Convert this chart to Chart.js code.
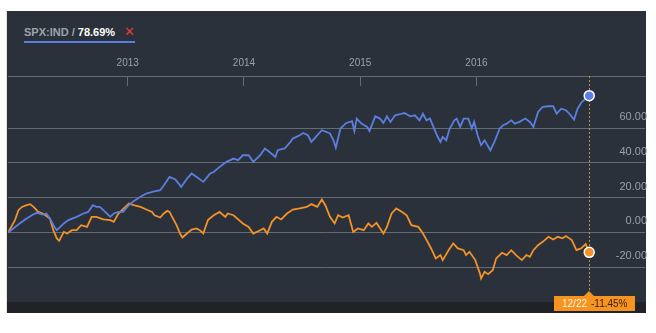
<!DOCTYPE html>
<html>
<head>
<meta charset="utf-8">
<script src="https://cdn.jsdelivr.net/npm/chart.js@4/dist/chart.umd.min.js"></script>
<style>
  html, body { margin: 0; padding: 0; background: #fff; }
  body { width: 656px; height: 333px; position: relative; overflow: hidden; font-family: Arial, "Liberation Sans", sans-serif; }
  #panel { position: absolute; left: 6px; top: 11px; width: 639px; height: 302px; background: #2a313a; border-left: 1px solid #efe2cf; }
  #strip { position: absolute; left: 0; right: 0; top: 291px; bottom: 0; background: #1f2328; }
  #legend { position: absolute; left: 24px; top: 24px; font-size: 11px; font-weight: bold; color: #9ea3aa; padding-bottom: 2px; border-bottom: 2px solid #5b7fe0; white-space: nowrap; }
  #legend .val { color: #ffffff; }
  #legend .close { color: #e2393f; font-size: 13px; font-weight: normal; margin-left: 9px; }
  canvas { position: absolute; left: 0; top: 0; }
</style>
</head>
<body>
<div id="panel"><div id="strip"></div></div>
<div id="legend">SPX:IND / <span class="val">78.69%</span><span class="close">&#x2715;</span></div>
<canvas id="perfChart" width="656" height="333"></canvas>
<script>
// Dates as fractional years, values as % change since start
const spxYears = [2011.97, 2012.07, 2012.13, 2012.19, 2012.22, 2012.27, 2012.30, 2012.33, 2012.37, 2012.39,
  2012.42, 2012.45, 2012.49, 2012.56, 2012.62, 2012.66, 2012.70, 2012.73, 2012.76, 2012.79,
  2012.85, 2012.88, 2012.92, 2012.96, 2013.01, 2013.05, 2013.11, 2013.16, 2013.22, 2013.28,
  2013.31, 2013.36, 2013.41, 2013.46, 2013.51, 2013.55, 2013.59, 2013.65, 2013.71, 2013.74,
  2013.79, 2013.85, 2013.91, 2013.95, 2013.99, 2014.04, 2014.08, 2014.14, 2014.18, 2014.22,
  2014.27, 2014.29, 2014.35, 2014.40, 2014.42, 2014.48, 2014.51, 2014.55, 2014.58, 2014.63,
  2014.67, 2014.71, 2014.74, 2014.77, 2014.79, 2014.83, 2014.88, 2014.93, 2014.95, 2014.97,
  2015.01, 2015.06, 2015.08, 2015.13, 2015.17, 2015.20, 2015.23, 2015.26, 2015.30, 2015.34,
  2015.38, 2015.43, 2015.47, 2015.51, 2015.54, 2015.57, 2015.60, 2015.63, 2015.66, 2015.69,
  2015.71, 2015.74, 2015.77, 2015.81, 2015.83, 2015.86, 2015.89, 2015.93, 2015.96, 2015.98,
  2016.01, 2016.04, 2016.07, 2016.12, 2016.16, 2016.20, 2016.23, 2016.26, 2016.30, 2016.33,
  2016.37, 2016.42, 2016.46, 2016.49, 2016.53, 2016.57, 2016.62, 2016.66, 2016.69, 2016.73,
  2016.77, 2016.80, 2016.84, 2016.87, 2016.90, 2016.93, 2016.97];
const spxValues = [0, 5.2, 8, 10.5, 11.3, 10.3, 10.9, 8, 3.2, 1.3,
  3.2, 5.2, 7.1, 9, 10.9, 11.8, 15.7, 14.7, 14.7, 12.8,
  9, 10.9, 11.8, 11.8, 15.7, 18, 20.5, 22.4, 23.5, 24.3,
  27, 32, 30.5, 26.2, 31, 33.9, 32, 29.1, 33.9, 34.8,
  37.7, 40.6, 42.5, 41.6, 44.4, 44.4, 40.6, 44.4, 48.3, 46.3,
  43.4, 47.3, 48.3, 52.1, 54, 55.9, 57.2, 55.9, 52.1, 55.9,
  58.8, 57.8, 56.9, 53, 48.8, 59.8, 63, 64, 58.4, 65.5,
  62.6, 60.7, 58.4, 66.8, 65.5, 63, 66.8, 63.6, 67.4, 68,
  68.7, 66.8, 67.4, 64.5, 68.3, 64.5, 65.5, 60.7, 55.9, 52.1,
  55, 53, 59.8, 64.5, 65.5, 60.7, 65.5, 65.5, 59.8, 63.6,
  55.9, 50.2, 53, 47.3, 53, 59.8, 61.7, 62.6, 64.5, 62.6,
  63.6, 65.5, 63.6, 60.7, 69.3, 72.2, 72.6, 72.6, 68.3, 71.2,
  70.3, 68.3, 64.9, 71.2, 74.5, 76.5, 78.69];

const peerYears = [2011.97, 2012.03, 2012.06, 2012.09, 2012.13, 2012.16, 2012.19, 2012.23, 2012.27, 2012.33,
  2012.36, 2012.39, 2012.41, 2012.45, 2012.48, 2012.52, 2012.56, 2012.60, 2012.65, 2012.69,
  2012.73, 2012.79, 2012.85, 2012.88, 2012.92, 2013.01, 2013.05, 2013.11, 2013.16, 2013.21,
  2013.23, 2013.28, 2013.31, 2013.34, 2013.36, 2013.39, 2013.42, 2013.45, 2013.47, 2013.51,
  2013.55, 2013.59, 2013.62, 2013.65, 2013.69, 2013.74, 2013.79, 2013.84, 2013.86, 2013.91,
  2013.95, 2013.99, 2014.04, 2014.08, 2014.11, 2014.17, 2014.20, 2014.24, 2014.28, 2014.32,
  2014.37, 2014.42, 2014.48, 2014.54, 2014.58, 2014.63, 2014.67, 2014.70, 2014.74, 2014.78,
  2014.81, 2014.85, 2014.90, 2014.94, 2014.98, 2015.03, 2015.07, 2015.10, 2015.14, 2015.20,
  2015.23, 2015.27, 2015.31, 2015.36, 2015.40, 2015.44, 2015.50, 2015.54, 2015.58, 2015.61,
  2015.65, 2015.69, 2015.71, 2015.76, 2015.80, 2015.84, 2015.89, 2015.91, 2015.94, 2015.99,
  2016.03, 2016.04, 2016.07, 2016.10, 2016.14, 2016.17, 2016.22, 2016.26, 2016.30, 2016.34,
  2016.39, 2016.43, 2016.46, 2016.49, 2016.53, 2016.57, 2016.62, 2016.66, 2016.70, 2016.74,
  2016.77, 2016.82, 2016.86, 2016.90, 2016.94, 2016.97];
const peerValues = [0, 7.1, 12.8, 14.7, 15.7, 16.3, 14.7, 11.8, 10.9, 8,
  1.3, -3.4, -4.8, 0.3, -0.6, 1.3, 1.3, 4.2, 3.2, 9,
  9, 7.5, 7.1, 6.1, 10.9, 16.7, 15.7, 14.7, 13.2, 11.8,
  9.9, 8.6, 10.9, 12.4, 11.8, 8, 4.2, -0.6, -2.9, -0.6,
  1.7, 2.3, 1.3, -0.6, 7.1, 9.9, 11.8, 9, 10.9, 9.9,
  7.5, 5.2, 3.2, -0.6, 0.3, 2.3, -0.6, 6.1, 9, 7.5,
  10.9, 13.2, 13.8, 14.7, 16.3, 14.7, 19, 15.7, 9, 5.2,
  9.9, 8.6, 9.9, 0.3, 2.3, 1.3, 5.2, 3.2, 5.5, -0.6,
  3.2, 10.9, 13.8, 11.8, 9.9, 4.2, 3.2, -0.6, -5.4, -9.2,
  -14.9, -13, -15.9, -10.2, -6.3, -9.2, -10.2, -13, -11.1, -15.9,
  -23.6, -26.4, -22.6, -24, -21.7, -14.9, -11.7, -13, -10.2, -13,
  -15.9, -13, -14, -10.2, -7.3, -5.4, -2.5, -4, -2.5, -3.4,
  -2.1, -4.4, -10.2, -9.2, -6.7, -11.45];

const yearTicks = [2013, 2014, 2015, 2016];
const valueTicks = [-20, 0, 20, 40, 60];
const endDateLabel = '12/22';
const endPeerLabel = '-11.45%';

const blue = '#5b7fe0';
const orange = '#f39229';
const gridColor = '#646b74';
const tickColor = '#9aa0a7';

function toPoints(xs, ys) {
  return xs.map((x, i) => ({ x: x, y: ys[i] }));
}

// only the last point gets a dot
const lastDot = (ctx) => ctx.dataIndex === ctx.dataset.data.length - 1 ? 5 : 0;

// Dotted cursor line and the date/value flag under the last point
const endMarker = {
  id: 'endMarker',
  beforeDatasetsDraw(chart) {
    const { ctx, chartArea, scales } = chart;
    const px = Math.round(scales.x.getPixelForValue(spxYears[spxYears.length - 1])) + 0.5;
    ctx.save();
    ctx.strokeStyle = '#c0903a';
    ctx.lineWidth = 1;
    ctx.setLineDash([2, 2]);
    ctx.beginPath();
    ctx.moveTo(px, chartArea.top);
    ctx.lineTo(px, chartArea.bottom - 6);
    ctx.stroke();
    ctx.restore();
  },
  afterDraw(chart) {
    const { ctx, chartArea, scales } = chart;
    const px = Math.round(scales.x.getPixelForValue(spxYears[spxYears.length - 1]));
    const top = chartArea.bottom - 6;
    ctx.save();
    ctx.fillStyle = '#f7941f';
    ctx.fillRect(px - 35, top, 81, 15);
    ctx.beginPath();
    ctx.moveTo(px - 5, top);
    ctx.lineTo(px, top - 5);
    ctx.lineTo(px + 5, top);
    ctx.fill();
    ctx.font = '10px Arial, "Liberation Sans", sans-serif';
    ctx.textBaseline = 'middle';
    ctx.textAlign = 'left';
    ctx.fillStyle = '#fff4e4';
    ctx.fillText(endDateLabel, px - 27, top + 8);
    ctx.fillStyle = '#3a2210';
    ctx.fillText(endPeerLabel, px + 2, top + 8);
    ctx.restore();
  }
};

const perfChart = document.getElementById('perfChart');

const data = {
  datasets: [{
    label: 'SPX:IND',
    data: toPoints(spxYears, spxValues),
    borderColor: blue,
    borderWidth: 1.8,
    pointRadius: lastDot,
    pointBackgroundColor: blue,
    pointBorderColor: '#ffffff',
    pointBorderWidth: 1.5
  }, {
    label: 'Peer',
    data: toPoints(peerYears, peerValues),
    borderColor: orange,
    borderWidth: 1.8,
    pointRadius: lastDot,
    pointBackgroundColor: orange,
    pointBorderColor: '#ffffff',
    pointBorderWidth: 1.5
  }]
};

const config = {
  type: 'line',
  data: data,
  options: {
    responsive: false,
    animation: false,
    layout: { padding: { left: 8, right: 7, top: 41, bottom: 31 } },
    plugins: { legend: { display: false }, tooltip: { enabled: false } },
    elements: { line: { tension: 0 } },
    scales: {
      x: {
        type: 'linear',
        position: 'top',
        min: 2011.97,
        max: 2017.45,
        afterBuildTicks: (scale) => { scale.ticks = yearTicks.map(v => ({ value: v })); },
        grid: { drawOnChartArea: false, drawTicks: true, tickLength: -10, color: gridColor, tickColor: gridColor },
        border: { display: true, color: gridColor, width: 1 },
        ticks: {
          color: tickColor,
          padding: 16.5,
          maxRotation: 0,
          font: { family: 'Arial, "Liberation Sans", sans-serif', size: 10 },
          callback: (v) => String(v)
        }
      },
      y: {
        position: 'right',
        min: -40,
        max: 90,
        afterBuildTicks: (scale) => { scale.ticks = valueTicks.map(v => ({ value: v })); },
        grid: { color: gridColor, drawTicks: false },
        border: { display: false },
        ticks: {
          mirror: true,
          padding: 2,
          labelOffset: -11,
          color: tickColor,
          font: { family: 'Arial, "Liberation Sans", sans-serif', size: 11 },
          callback: (v) => v.toFixed(2)
        }
      }
    }
  },
  plugins: [endMarker]
};

new Chart(perfChart, config);
</script>
</body>
</html>
